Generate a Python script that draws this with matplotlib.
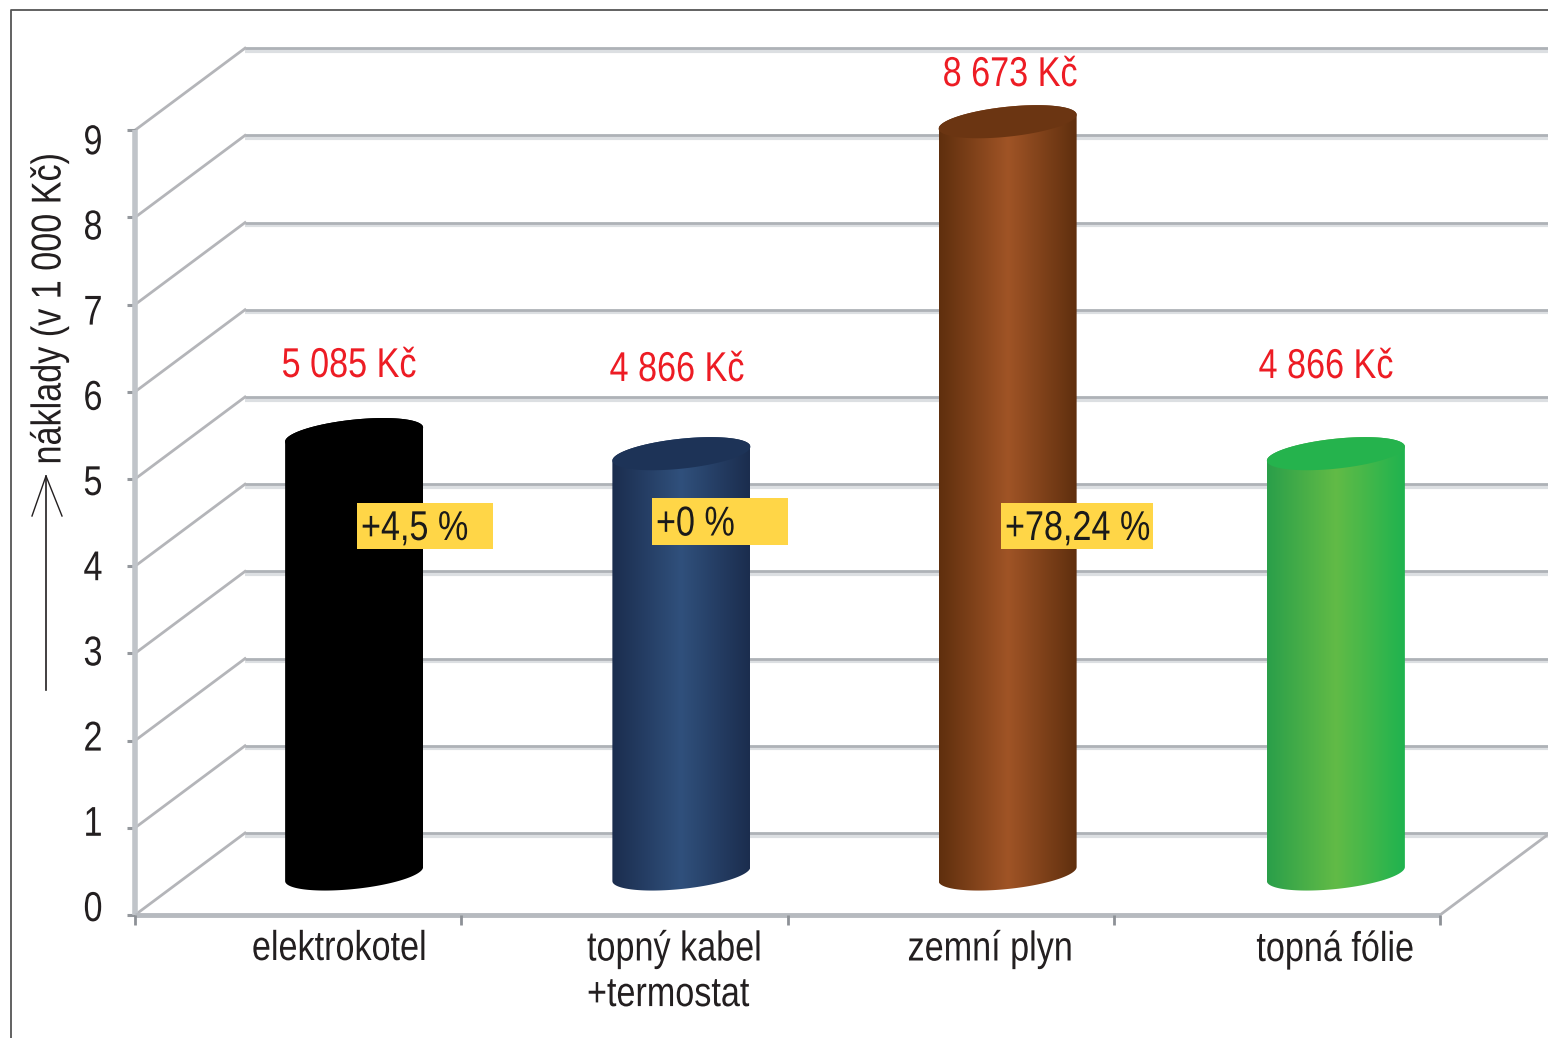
import numpy as np
import matplotlib
matplotlib.use('Agg')
import matplotlib.pyplot as plt
from matplotlib.colors import LinearSegmentedColormap
from matplotlib.patches import Polygon, Rectangle
from matplotlib.patheffects import AbstractPathEffect
from matplotlib.transforms import Affine2D

# Data
categories = ['elektrokotel', 'topný kabel\n+termostat', 'zemní plyn', 'topná fólie']
costs = [5.085, 4.866, 8.673, 4.866]
cost_labels = ['5 085 Kč', '4 866 Kč', '8 673 Kč', '4 866 Kč']
pct_labels = ['+4,5 %', '+0 %', '+78,24 %']
y_ticks = [0, 1, 2, 3, 4, 5, 6, 7, 8, 9]

# Bar styles: edge, middle, edge, top
bar_colors = [
    ['#000000', '#000000', '#000000', '#000000'],
    ['#1b2d4e', '#30507c', '#1b2d4e', '#1d3357'],
    ['#5f2f0e', '#a05426', '#5f2f0e', '#6b3512'],
    ['#2a9f4a', '#62bb46', '#1fb34f', '#25b34d'],
]

W, H = 1548, 1038
X0, Y0 = 135, 915      # pixel of the front axis origin
CAT_W = 326.25         # pixels per category
VAL_H = 87.2           # pixels per 1 000 Kc
DEPTH_X = 110 / CAT_W
DEPTH_Y = 82 / VAL_H
FONT_SIZE = 30
SQUEEZE = 0.82         # the original lettering is condensed

plt.rcParams['font.family'] = ['Liberation Sans', 'DejaVu Sans']

fig = plt.figure(figsize=(W / 100, H / 100), dpi=100, facecolor='white')
ax = fig.add_axes([0, 0, 1, 1])
xlim = (-X0 / CAT_W, (W - X0) / CAT_W)
ylim = ((Y0 - H) / VAL_H, Y0 / VAL_H)
ax.axis('off')


class Squeeze(AbstractPathEffect):
    # narrows text around its anchor, the text stays a normal Text
    def __init__(self, x, y, sx=1.0, sy=1.0):
        super().__init__()
        self.x, self.y, self.sx, self.sy = x, H - y, sx, sy

    def draw_path(self, renderer, gc, tpath, affine, rgbFace=None):
        squeeze = Affine2D().translate(-self.x, -self.y).scale(self.sx, self.sy).translate(self.x, self.y)
        renderer.draw_path(gc, tpath, affine + squeeze, rgbFace)


def px(x, y):
    # picture pixel -> data position, for text and other layout items
    return (x - X0) / CAT_W, (Y0 - y) / VAL_H


def label(x, y, s, color='#231f20', ha='center', va='center', **kw):
    t = ax.text(*px(x, y), s, color=color, fontsize=FONT_SIZE, ha=ha, va=va, zorder=5, **kw)
    if kw.get('rotation') == 90:
        t.set_path_effects([Squeeze(x, y, sy=SQUEEZE)])
    else:
        t.set_path_effects([Squeeze(x, y, sx=SQUEEZE)])
    return t


GRID_DARK = '#aeb2b7'
GRID_SOFT = '#dcdfe2'
n_cat = len(categories)

# wall and side lines
for v in y_ticks:
    ax.plot([DEPTH_X, xlim[1]], [v + DEPTH_Y - 0.03, v + DEPTH_Y - 0.03], color=GRID_SOFT, lw=3.0, zorder=1, solid_capstyle='butt')
    ax.plot([DEPTH_X, xlim[1]], [v + DEPTH_Y, v + DEPTH_Y], color=GRID_DARK, lw=2.0, zorder=1.1, solid_capstyle='butt')
    ax.plot([0, DEPTH_X], [v, v + DEPTH_Y], color='#b4b5b9', lw=2.0, zorder=1.2)
    ax.plot([-8 / CAT_W, 0], [v, v], color='#94989d', lw=2.2, zorder=2, solid_capstyle='butt')

# floor edge on the right
ax.plot([n_cat, n_cat + DEPTH_X], [0, DEPTH_Y], color='#b4b5b9', lw=2.0, zorder=1.2)

# front axes
ax.plot([0, 0], [0, 9], color='#c0c4c9', lw=4.0, zorder=2, solid_capstyle='butt')
ax.plot([0, n_cat], [0, 0], color='#b6babf', lw=3.5, zorder=2, solid_capstyle='butt')
for i in range(n_cat + 1):
    ax.plot([i, i], [0, -10 / VAL_H], color='#8d9196', lw=2.0, zorder=2, solid_capstyle='butt')

# cylinders
half_w = 69 / CAT_W
half_h = 15 / VAL_H
shear = 7 / VAL_H
rim_drop = 4 / VAL_H
bar_shift = [1, 2, 2, 4]
t = np.linspace(0, 2 * np.pi, 181)
t_front = np.linspace(np.pi, 2 * np.pi, 91)
for i, cost in enumerate(costs):
    cx = i + 0.5 + 0.5 * DEPTH_X + bar_shift[i] / CAT_W
    base = 0.5 * DEPTH_Y
    top = base + cost - rim_drop

    front_x = cx + half_w * np.cos(t_front)
    front_y = base + shear * np.cos(t_front) + half_h * np.sin(t_front)
    top_x = cx + half_w * np.cos(t)
    top_y = top + shear * np.cos(t) + half_h * np.sin(t)
    # body outline: front of the base, then back along the top rim
    body = Polygon(np.column_stack([np.r_[front_x, top_x[:91]], np.r_[front_y, top_y[:91]]]),
                   closed=True, fc='none', ec='none', transform=ax.transData)
    ax.add_patch(body)

    cmap = LinearSegmentedColormap.from_list('bar%d' % i, bar_colors[i][:3])
    shade = np.linspace(0, 1, 256).reshape(1, -1)
    img = ax.imshow(shade, cmap=cmap, aspect='auto', zorder=3,
                    extent=(cx - half_w, cx + half_w, base - 1, top + 1))
    img.set_clip_path(body)

    ax.add_patch(Polygon(np.column_stack([top_x, top_y]), closed=True,
                         fc=bar_colors[i][3], ec='none', zorder=3.5))

ax.set_xlim(*xlim)
ax.set_ylim(*ylim)

# red cost labels
cost_pos = [(349, 366), (677, 370), (1010, 75), (1326, 367)]
for s, pos in zip(cost_labels, cost_pos):
    label(pos[0], pos[1], s, color='#ed1c24')

# yellow percent boxes
box_pos = [(357, 503, 136, 46), (652, 498, 136, 47), (1001, 503, 152, 46)]
for s, (bx, by, bw, bh) in zip(pct_labels, box_pos):
    x1, y1 = px(bx, by + bh)
    ax.add_patch(Rectangle((x1, y1), bw / CAT_W, bh / VAL_H, fc='#ffd647', ec='none', zorder=4))
    label(bx + 4, by + bh / 2 + 3, s, color='#1a1a1a', ha='left')

# tick labels
for v in y_ticks:
    label(93, 910 - 85.2 * v, str(v))

cat_pos = [339, 587, 990, 1335]
cat_ha = ['center', 'left', 'center', 'center']
for name, cat_x, ha in zip(categories, cat_pos, cat_ha):
    label(cat_x, 929, name, ha=ha, va='top', linespacing=1.18, multialignment='left')

# axis title with arrow
label(49, 309, 'náklady (v 1 000 Kč)', rotation=90)
ax.plot(*zip(px(46, 690), px(46, 476)), color='#231f20', lw=1.2, zorder=5)
ax.plot(*zip(px(32, 516), px(46, 476), px(62, 516)), color='#231f20', lw=1.0, zorder=5)

# frame around the picture
ax.plot(*zip(px(11, H), px(11, 10), px(W, 10)), color='#555555', lw=1.3, zorder=6)

fig.savefig('out.png', dpi=100)
